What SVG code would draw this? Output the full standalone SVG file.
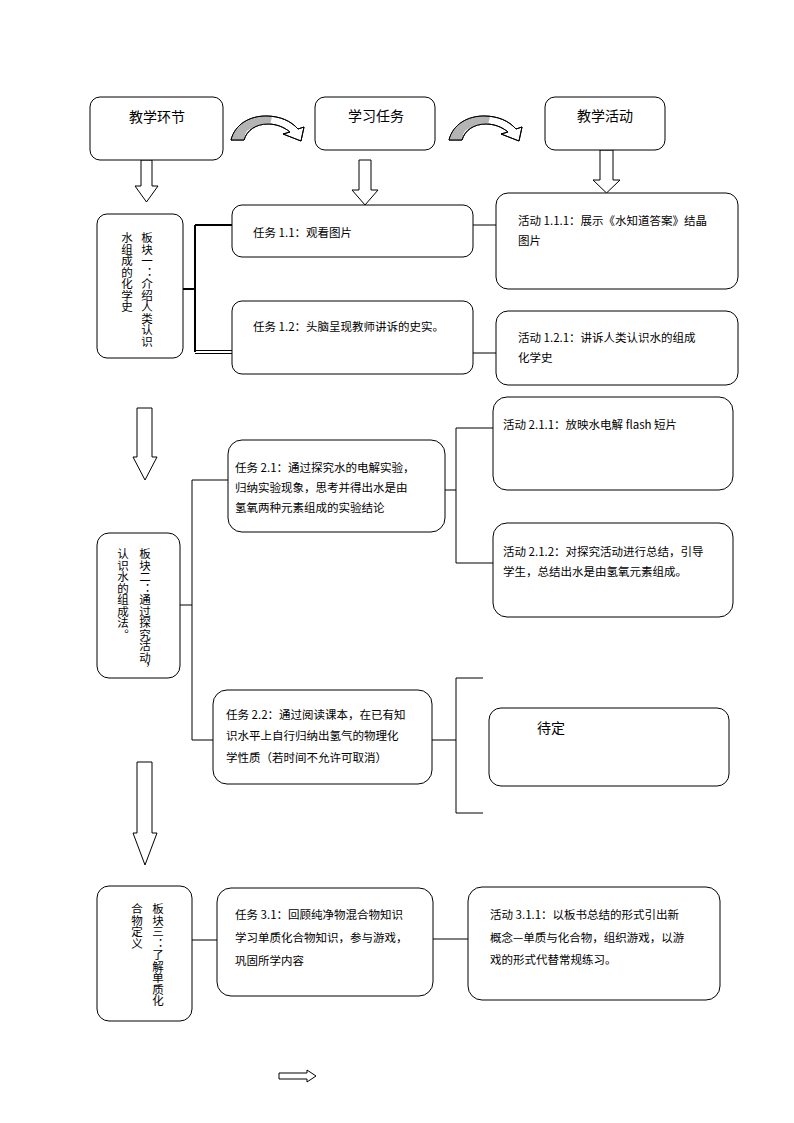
<svg xmlns="http://www.w3.org/2000/svg" width="794" height="1123" viewBox="0 0 794 1123">
<style>
.box{fill:#fff;stroke:#000;stroke-width:1}
.t{font-family:"Noto Sans CJK SC","Liberation Sans",sans-serif;font-size:11.5px;fill:#000}
.h{font-size:14px}
.v{writing-mode:tb;font-family:"Noto Sans CJK SC","Liberation Sans",sans-serif;font-size:11.5px;fill:#000}
.c{stroke:#000;stroke-width:1;fill:none}
.c2{stroke:#000;stroke-width:2;fill:none}
.ba{fill:#fff;stroke:#000;stroke-width:1}
.cw{fill:#fff;stroke:#000;stroke-width:1}
.cg{fill:#b4b4b4;stroke:none}
</style>
<defs>
<g id="curv">
<path class="cw" d="M231,140 C235,124 250,116 266,116 C280,116 291,121 298,129 L304,127 L301,141 L283,134 L290,132 C284,127 276,124 268,124 C256,124 247,130 244,140 Z"/>
<path class="cg" d="M231.6,139.5 C235,124.5 250,116.6 266,116.6 L272,117.2 L270,124.2 C268,124 256,124 247,131 C245,134 244.5,137 244,139.5 Z"/>
<path class="c" d="M231,140 C235,124 250,116 266,116 C280,116 291,121 298,129 L304,127 L301,141 L283,134 L290,132 C284,127 276,124 268,124 C256,124 247,130 244,140 Z"/>
</g>
</defs>
<rect width="794" height="1123" fill="#fff"/>

<g id="arrows">
<use href="#curv"/>
<use href="#curv" transform="translate(218,0)"/>
<path class="ba" d="M141,160 H152 V186 H158 L146.5,202 L135,186 H141 Z"/>
<path class="ba" d="M359,160 H371 V190 H378 L365,205 L352,190 H359 Z"/>
<path class="ba" d="M600,150 H613 V180 H620 L606.5,193 L593,180 H600 Z"/>
<path class="ba" d="M137,408 H152 V457 H157 L145,480 L133,457 H137 Z"/>
<path class="ba" d="M137,762 H152 V833 H157 L145,865 L133,833 H137 Z"/>
<path class="ba" d="M279,1073 H307 V1070 L316,1076 L307,1082 V1079 H279 Z"/>
</g>

<g id="connectors">
<path class="c2" d="M183,289 H195 M195,225 V352 M195,225 H232"/>
<path class="c" d="M195,350.5 H232 M195,353.5 H232"/>
<path class="c" d="M473,225 H496 M473,353 H496"/>
<path class="c" d="M180,605 H192 M192,480 V740 M192,480 H228 M192,740 H213"/>
<path class="c" d="M445,490 H456 M456,428 V563 M456,428 H493 M456,563 H493"/>
<path class="c" d="M432,740 H456 M456,678 V813 M456,678 H483 M456,813 H483"/>
<path class="c" d="M192,940 H217 M433,939 H468"/>
</g>

<g id="h1"><rect class="box" x="90" y="97" width="133" height="63" rx="10"/><text class="t h" x="157" y="122" text-anchor="middle">教学环节</text></g>
<g id="h2"><rect class="box" x="315" y="97" width="120" height="53" rx="10"/><text class="t h" x="376" y="121" text-anchor="middle">学习任务</text></g>
<g id="h3"><rect class="box" x="545" y="97" width="120" height="53" rx="10"/><text class="t h" x="605" y="121" text-anchor="middle">教学活动</text></g>

<g id="b1"><rect class="box" x="97" y="214" width="86" height="144" rx="10"/>
<text class="v" x="147" y="232">板块一：介绍人类认识</text>
<text class="v" x="127" y="232">水组成的化学史</text></g>
<g id="b2"><rect class="box" x="97" y="533" width="83" height="145" rx="12"/>
<text class="v" x="145" y="548">板块二：通过探究活动，</text>
<text class="v" x="123" y="548">认识水的组成法。</text></g>
<g id="b3"><rect class="box" x="97" y="886" width="95" height="135" rx="12"/>
<text class="v" x="158" y="903">板块三：了解单质化</text>
<text class="v" x="137" y="903">合物定义</text></g>

<g id="t11"><rect class="box" x="232" y="205" width="241" height="52" rx="10"/><text class="t" x="253" y="237">任务 1.1：观看图片</text></g>
<g id="t12"><rect class="box" x="232" y="301" width="241" height="73" rx="10"/><text class="t" x="253" y="331">任务 1.2：头脑呈现教师讲诉的史实。</text></g>
<g id="a111"><rect class="box" x="496" y="193" width="242" height="96" rx="12"/><text class="t" x="518" y="225">活动 1.1.1：展示《水知道答案》结晶</text><text class="t" x="518" y="245">图片</text></g>
<g id="a121"><rect class="box" x="496" y="311" width="242" height="74" rx="12"/><text class="t" x="518" y="342">活动 1.2.1：讲诉人类认识水的组成</text><text class="t" x="518" y="362">化学史</text></g>

<g id="t21"><rect class="box" x="228" y="440" width="217" height="92" rx="14"/>
<text class="t" x="235" y="472">任务 2.1：通过探究水的电解实验，</text>
<text class="t" x="235" y="492">归纳实验现象，思考并得出水是由</text>
<text class="t" x="235" y="512">氢氧两种元素组成的实验结论</text></g>
<g id="a211"><rect class="box" x="493" y="397" width="240" height="93" rx="14"/><text class="t" x="503" y="429">活动 2.1.1：放映水电解 flash 短片</text></g>
<g id="a212"><rect class="box" x="493" y="523" width="240" height="94" rx="14"/>
<text class="t" x="503" y="556">活动 2.1.2：对探究活动进行总结，引导</text>
<text class="t" x="503" y="576">学生，总结出水是由氢氧元素组成。</text></g>

<g id="t22"><rect class="box" x="213" y="690" width="219" height="94" rx="14"/>
<text class="t" x="226" y="719">任务 2.2：通过阅读课本，在已有知</text>
<text class="t" x="226" y="740">识水平上自行归纳出氢气的物理化</text>
<text class="t" x="226" y="762">学性质（若时间不允许可取消）</text></g>
<g id="tbd"><rect class="box" x="489" y="708" width="240" height="78" rx="12"/><text class="t" x="537" y="733" style="font-size:14px">待定</text></g>

<g id="t31"><rect class="box" x="217" y="888" width="216" height="108" rx="14"/>
<text class="t" x="235" y="919">任务 3.1：回顾纯净物混合物知识</text>
<text class="t" x="235" y="942">学习单质化合物知识，参与游戏，</text>
<text class="t" x="235" y="965">巩固所学内容</text></g>
<g id="a311"><rect class="box" x="468" y="887" width="252" height="113" rx="14"/>
<text class="t" x="490" y="919">活动 3.1.1：以板书总结的形式引出新</text>
<text class="t" x="490" y="942">概念—单质与化合物，组织游戏，以游</text>
<text class="t" x="490" y="964">戏的形式代替常规练习。</text></g>
</svg>
